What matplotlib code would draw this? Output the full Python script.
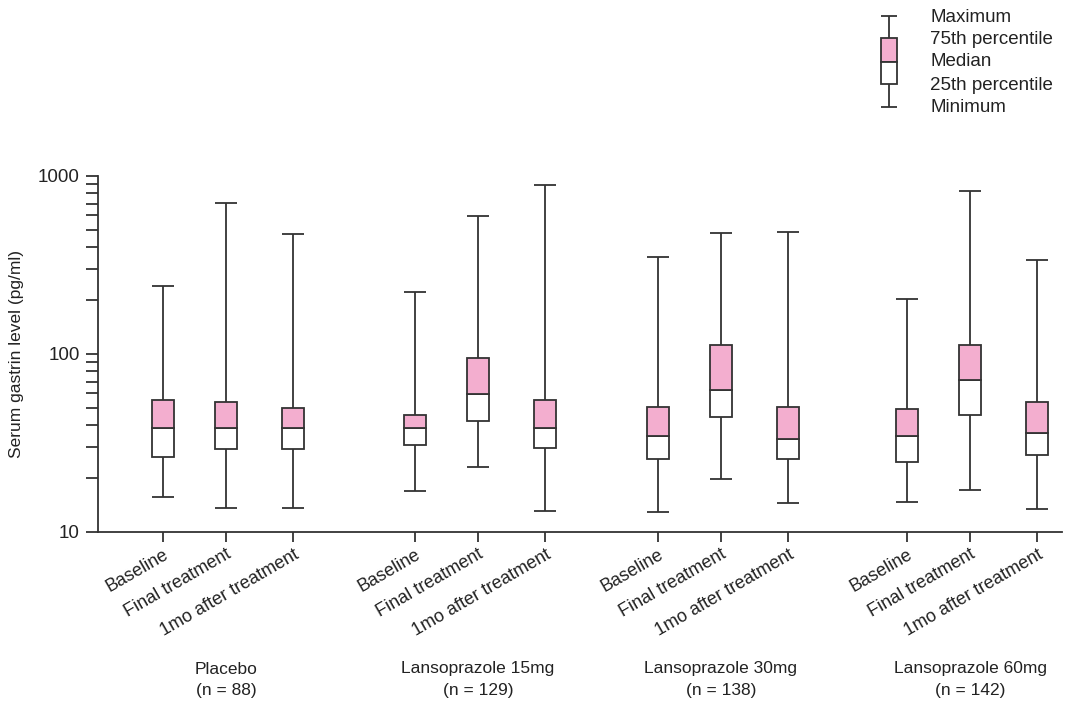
import matplotlib.pyplot as plt
from matplotlib.transforms import blended_transform_factory
from matplotlib.ticker import LogLocator, NullFormatter

plt.rcParams['font.family'] = ['Liberation Sans', 'DejaVu Sans']

# serum gastrin (pg/ml) per group and time point
timepoints = ['Baseline', 'Final treatment', '1mo after treatment']
groups = ['Placebo', 'Lansoprazole 15mg', 'Lansoprazole 30mg', 'Lansoprazole 60mg']
group_n = [88, 129, 138, 142]

maximum = [240, 707, 474, 222, 595, 887, 349, 481, 486, 205, 819, 336]
q75 = [55.4, 53.5, 49.6, 45.4, 94.7, 54.9, 50.2, 111.7, 50.2, 49.3, 113, 53.8]
median = [38.4, 38.4, 38.4, 38.3, 59.5, 38.6, 34.5, 62.8, 33.5, 34.8, 71.8, 36.2]
q25 = [26.3, 29.1, 29.1, 30.8, 42.3, 29.8, 25.6, 44.2, 25.8, 24.6, 45.7, 27.1]
minimum = [15.7, 13.7, 13.7, 17.0, 23.1, 13.2, 12.9, 19.9, 14.5, 14.7, 17.3, 13.5]

pink = '#f3aecf'
edge = '#333333'
txt = '#222222'
lw = 1.3

# x layout: group centres and offsets of the three time points
centres = [226, 478, 721, 970]
offsets = [-63, 0, 67]
xs = [c + o for c in centres for o in offsets]
box_w = 22

fig = plt.figure(figsize=(10.72, 7.02), dpi=100)
ax = fig.add_axes([98 / 1072, 1 - 532 / 702, (1062 - 98) / 1072, (532 - 176) / 702])

for x, lo, a, m, b, hi in zip(xs, minimum, q25, median, q75, maximum):
    ax.vlines(x, b, hi, color=edge, lw=lw, zorder=2)
    ax.vlines(x, lo, a, color=edge, lw=lw, zorder=2)
    ax.hlines([lo, hi], x - box_w / 2, x + box_w / 2, color=edge, lw=lw, zorder=2)
    ax.bar(x, m - a, bottom=a, width=box_w, color='white', edgecolor=edge, lw=lw, zorder=3)
    ax.bar(x, b - m, bottom=m, width=box_w, color=pink, edgecolor=edge, lw=lw, zorder=3)

ax.set_yscale('log')
ax.set_ylim(10, 1000)
ax.set_xlim(98, 1062)
ax.yaxis.set_minor_locator(LogLocator(base=10, subs=range(2, 10), numticks=10))
ax.yaxis.set_minor_formatter(NullFormatter())
ax.set_yticks([10, 100, 1000])
ax.set_yticklabels(['10', '100', '1000'])

for side in ['top', 'right']:
    ax.spines[side].set_visible(False)
for side in ['left', 'bottom']:
    ax.spines[side].set_color(edge)
    ax.spines[side].set_linewidth(lw)

ax.tick_params(axis='y', which='both', direction='out', length=9, width=lw, color=edge,
               labelsize=13.5, labelcolor=txt, pad=4)
ax.tick_params(axis='x', direction='out', length=7, width=lw, color=edge, labelsize=13,
               labelcolor=txt, pad=3)

ax.set_xticks(xs)
ax.set_xticklabels(timepoints * len(groups), rotation=30, ha='right', va='top',
                   rotation_mode='anchor')

ax.set_ylabel('Serum gastrin level (pg/ml)', fontsize=12.5, color=txt, labelpad=10)

# group names under the time-point labels
tr = blended_transform_factory(ax.transData, fig.transFigure)
for c, g, n in zip(centres, groups, group_n):
    ax.text(c, 1 - 669 / 702, g, transform=tr, ha='center', va='center', fontsize=12.5,
            color=txt)
    ax.text(c, 1 - 691 / 702, '(n = %d)' % n, transform=tr, ha='center', va='center',
            fontsize=12.5, color=txt)

# key in the upper right corner, drawn in pixel units
key = fig.add_axes([860 / 1072, 1 - 125 / 702, 212 / 1072, 125 / 702])
key.set_xlim(860, 1072)
key.set_ylim(125, 0)
key.axis('off')
kx, kw = 889, 16
key.vlines(kx, 16, 38, color=edge, lw=lw)
key.vlines(kx, 84, 107, color=edge, lw=lw)
key.hlines([16, 107], kx - kw / 2, kx + kw / 2, color=edge, lw=lw)
key.add_patch(plt.Rectangle((kx - kw / 2, 38), kw, 24, facecolor=pink, edgecolor=edge, lw=lw))
key.add_patch(plt.Rectangle((kx - kw / 2, 62), kw, 22, facecolor='white', edgecolor=edge, lw=lw))
key_labels = ['Maximum', '75th percentile', 'Median', '25th percentile', 'Minimum']
for y, t in zip([17, 40, 62, 85, 107], key_labels):
    key.text(930, y, t, ha='left', va='center', fontsize=13.5, color=txt)

fig.savefig('out.png', dpi=100)
